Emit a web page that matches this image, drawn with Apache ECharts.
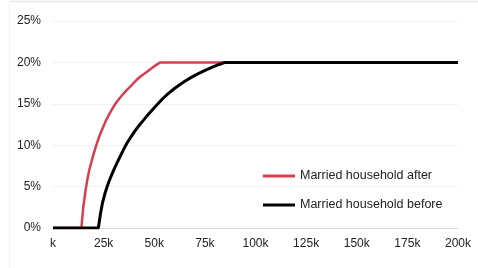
<!DOCTYPE html>
<html>
<head>
<meta charset="utf-8">
<script src="https://cdn.jsdelivr.net/npm/echarts@6/dist/echarts.min.js"></script>
<style>
html, body { margin: 0; padding: 0; background: #fff; }
#chart { width: 478px; height: 268px; }
</style>
</head>
<body>
<div id="chart"></div>
<script>
// 收入 (k) 与税率 (%)
var afterIncome = [0, 14, 15, 16, 17, 18, 19, 20, 21, 22, 23, 24.5, 26, 28, 30, 32, 34, 36.4, 39, 41.3, 44, 46.3, 49, 51, 53, 200];
var afterRate = [0, 0, 2.6, 4.4, 5.9, 7.1, 8.0, 8.9, 9.7, 10.45, 11.15, 12.05, 12.9, 13.85, 14.7, 15.4, 16.0, 16.65, 17.3, 17.9, 18.45, 18.85, 19.35, 19.7, 20, 20];

var beforeIncome = [0, 22.4, 23.5, 24.5, 25.7, 27, 28.5, 29.8, 31.5, 33, 34.7, 36.4, 38.5, 40.5, 42.5, 44.6, 47, 50, 52.5, 54.5, 57, 60, 62.7, 65.5, 68.5, 72, 75.9, 79, 82, 85, 200];
var beforeRate = [0, 0, 1.8, 3.1, 4.2, 5.2, 6.15, 6.9, 7.8, 8.55, 9.4, 10.2, 11.0, 11.72, 12.38, 13.0, 13.7, 14.53, 15.18, 15.7, 16.25, 16.85, 17.33, 17.78, 18.22, 18.68, 19.12, 19.45, 19.75, 20, 20];

var seriesNames = ['Married household after', 'Married household before'];

function pairs(xs, ys) {
	return xs.map(function (x, i) { return [x, ys[i]]; });
}

var myChart = echarts.init(document.getElementById('chart'));

var option = {
	animation: false,
	textStyle: { fontFamily: 'Liberation Sans, Arial, sans-serif' },
	graphic: [
		{ type: 'line', shape: { x1: 9.5, y1: 1.5, x2: 478, y2: 1.5 }, style: { stroke: '#eeeeee', lineWidth: 2 } },
		{ type: 'line', shape: { x1: 9.5, y1: 1.5, x2: 9.5, y2: 268 }, style: { stroke: '#f2f2f2', lineWidth: 1 } }
	],
	grid: { left: 53, right: 20, top: 21, bottom: 40 },
	legend: {
		orient: 'vertical',
		left: 258,
		top: 164,
		padding: 5,
		icon: 'rect',
		itemWidth: 32,
		itemHeight: 3,
		itemGap: 15,
		textStyle: { fontSize: 12.5, color: '#222', lineHeight: 14 },
		data: seriesNames
	},
	xAxis: {
		type: 'value',
		min: 0,
		max: 200,
		interval: 25,
		axisLine: { show: true, lineStyle: { color: '#d9d9d9' } },
		axisTick: { show: false },
		splitLine: { show: false },
		axisLabel: {
			color: '#222',
			fontSize: 12,
			margin: 10,
			formatter: function (v) { return (v === 0 ? '' : v) + 'k'; }
		}
	},
	yAxis: {
		type: 'value',
		min: 0,
		max: 25,
		interval: 5,
		axisLine: { show: false },
		axisTick: { show: false },
		splitLine: { lineStyle: { color: '#f2f2f2' } },
		axisLabel: { color: '#222', fontSize: 12, margin: 12, formatter: '{value}%' }
	},
	series: [{
		name: seriesNames[0],
		type: 'line',
		symbol: 'none',
		lineStyle: { color: '#d63f51', width: 2.5 },
		itemStyle: { color: '#d63f51' },
		data: pairs(afterIncome, afterRate)
	}, {
		name: seriesNames[1],
		type: 'line',
		symbol: 'none',
		lineStyle: { color: '#000', width: 3 },
		itemStyle: { color: '#000' },
		data: pairs(beforeIncome, beforeRate)
	}]
};

myChart.setOption(option);
</script>
</body>
</html>
